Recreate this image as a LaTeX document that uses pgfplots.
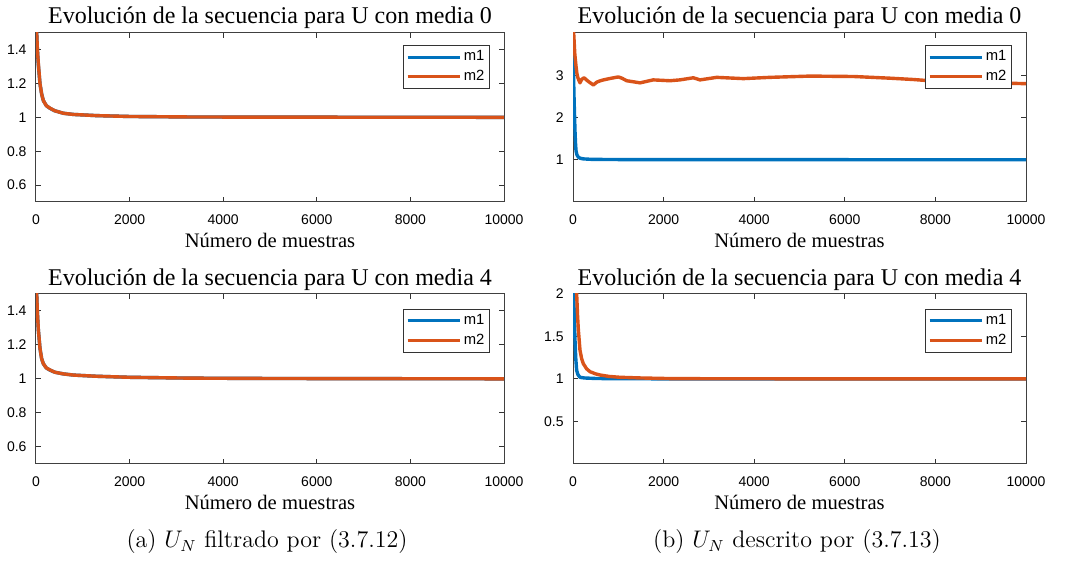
\documentclass[border=0pt]{standalone}
\usepackage{pgfplots}
\pgfplotsset{compat=1.18}
\usepackage{fontspec}
\newfontfamily\timesf{Liberation Serif}
\newfontfamily\helv{Liberation Sans}
\definecolor{mblue}{rgb}{0,0.447,0.741}
\definecolor{morange}{rgb}{0.85,0.325,0.098}
\pgfplotsset{
  mstyle/.style={
    scale only axis, anchor=south west,
    xmin=0, xmax=10000, xtick={0,2000,4000,6000,8000,10000},
    scaled x ticks=false, scaled y ticks=false,
    /pgf/number format/1000 sep={},
    /pgf/number format/assume math mode=true,
    tick label style={font=\helv\fontsize{7}{8}\selectfont},
    xticklabel style={yshift=-3pt},
    yticklabel style={xshift=-1.2pt},
    axis line style={black!75, line width=0.5pt},
    major tick length=2.5pt,
    tick style={black!80, line width=0.5pt},
    title style={font=\timesf\fontsize{12}{14}\selectfont, at={(0.5,1)}, anchor=base, yshift=-1.5pt},
    title={Evolución de la secuencia para U con media 0},
    xlabel={Número de muestras},
    xlabel style={font=\timesf\fontsize{10.3}{12}\selectfont, at={(axis description cs:0.5,0)}, anchor=base, yshift=-23pt},
    legend style={at={(rel axis cs:1,1)}, anchor=north east, xshift=-7pt, yshift=-6pt,
      font=\helv\fontsize{7.4}{8}\selectfont, draw=black!80, line width=0.4pt,
      row sep=0.4pt, nodes={inner sep=1.4pt}, inner sep=1.2pt},
    legend cell align=left,
    legend image code/.code={\draw[#1, line width=1.5pt] (0pt,0pt) -- (26pt,0pt);},
    every axis plot/.append style={line width=1.7pt, line join=round},
  }
}
\begin{document}
\begin{tikzpicture}
\path[use as bounding box] (0,0) rectangle (535.5pt,280.5pt);
% (a) top
\begin{axis}[mstyle, at={(18pt,179.5pt)}, width=234pt, height=84.5pt,
  ymin=0.5, ymax=1.5, ytick={0.6,0.8,1,1.2,1.4}]
\addplot[mblue] coordinates {(0,1.9) (15,1.5) (30,1.40) (50,1.31) (85,1.20) (120,1.14) (157,1.10) (220,1.07) (300,1.054) (400,1.04) (584,1.025) (800,1.018) (1300,1.011) (2000,1.006) (3300,1.003) (5000,1.002) (7500,1.0015) (10000,1.001)};
\addplot[morange] coordinates {(0,1.9) (15,1.5) (30,1.40) (50,1.32) (85,1.20) (120,1.14) (157,1.10) (220,1.07) (300,1.055) (400,1.04) (584,1.025) (800,1.018) (1300,1.011) (2000,1.006) (3300,1.003) (5000,1.002) (7500,1.0015) (10000,1.001)};
\legend{m1,m2}
\end{axis}
% (b) top
\begin{axis}[mstyle, at={(286.5pt,179.5pt)}, width=226.5pt, height=84.5pt,
  ymin=0, ymax=4, ytick={1,2,3}]
\addplot[mblue] coordinates {(0,3.5) (10,3.1) (20,2.6) (30,2.2) (44,1.68) (55,1.4) (66,1.22) (85,1.12) (118,1.06) (160,1.035) (228,1.02) (400,1.01) (800,1.005) (2000,1.002) (10000,1.0)};
\addplot[morange] coordinates {(0,4.3) (15,4.0) (40,3.5) (66,3.22) (85,3.05) (105,2.95) (130,2.88) (154,2.82) (190,2.9) (243,2.94) (330,2.86) (449,2.77) (530,2.84) (633,2.88) (800,2.92) (1000,2.96) (1080,2.93) (1185,2.87) (1480,2.82) (1770,2.89) (2140,2.87) (2360,2.89) (2656,2.94) (2804,2.89) (3172,2.95) (3760,2.92) (4349,2.95) (5232,2.98) (6200,2.97) (7000,2.93) (7500,2.90) (8000,2.86) (9000,2.83) (10000,2.80)};
\legend{m1,m2}
\end{axis}
% (a) bottom
\begin{axis}[mstyle, at={(18pt,48.5pt)}, width=234pt, height=85pt,
  ymin=0.5, ymax=1.5, ytick={0.6,0.8,1,1.2,1.4},
  title={Evolución de la secuencia para U con media 4},
  title style={yshift=-0.5pt},
  legend style={yshift=-1.3pt}]
\addplot[mblue] coordinates {(0,1.9) (15,1.5) (30,1.39) (50,1.29) (85,1.18) (120,1.12) (157,1.09) (220,1.065) (300,1.052) (400,1.04) (584,1.03) (800,1.023) (1300,1.016) (2000,1.01) (3300,1.005) (5000,1.003) (7000,1.002) (10000,1.001)};
\addplot[morange] coordinates {(0,1.9) (15,1.5) (30,1.39) (50,1.29) (85,1.18) (120,1.12) (157,1.09) (220,1.065) (300,1.053) (400,1.04) (584,1.03) (800,1.023) (1300,1.016) (2000,1.01) (3300,1.005) (5000,1.003) (7000,1.002) (10000,1.001)};
\legend{m1,m2}
\end{axis}
% (b) bottom
\begin{axis}[mstyle, at={(286.5pt,48.5pt)}, width=226.5pt, height=85pt,
  ymin=0, ymax=2, ytick={0.5,1,1.5,2},
  title={Evolución de la secuencia para U con media 4},
  title style={yshift=-0.5pt},
  legend style={yshift=-1.3pt}]
\addplot[mblue] coordinates {(0,2.6) (15,2.0) (30,1.7) (44,1.46) (60,1.25) (81,1.1) (110,1.05) (154,1.02) (250,1.012) (500,1.006) (1000,1.003) (3000,1.001) (10000,1.0)};
\addplot[morange] coordinates {(0,3.0) (60,2.3) (81,2.0) (100,1.75) (118,1.58) (154,1.34) (190,1.24) (228,1.18) (300,1.12) (375,1.086) (500,1.06) (596,1.047) (800,1.03) (1037,1.02) (1500,1.012) (2141,1.005) (3000,1.003) (5000,1.002) (10000,1.001)};
\legend{m1,m2}
\end{axis}
\node[anchor=base, font=\fontsize{12}{14}\selectfont] at (133.5pt,6.5pt) {(a) $U_N$ filtrado por (3.7.12)};
\node[anchor=base, font=\fontsize{12}{14}\selectfont] at (398.5pt,6.5pt) {(b) $U_N$ descrito por (3.7.13)};
\end{tikzpicture}
\end{document}
